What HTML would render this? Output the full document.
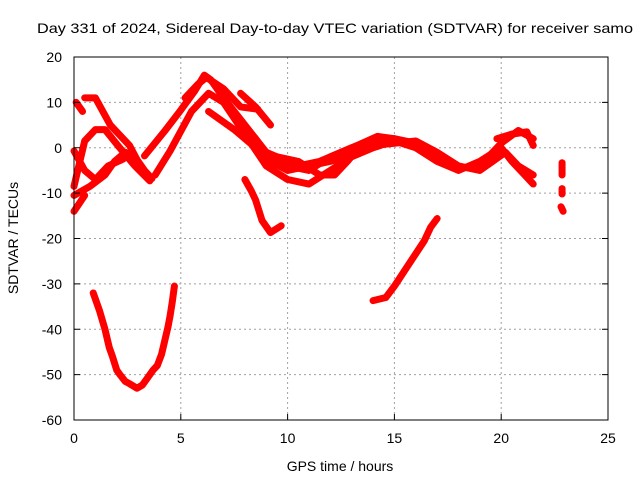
<!DOCTYPE html>
<html><head><meta charset="utf-8"><style>
body{margin:0;background:#fff}
svg text{font-family:"Liberation Sans",sans-serif;font-size:14px;fill:#000}
</style></head><body>
<svg id="chart" width="640" height="480" xmlns="http://www.w3.org/2000/svg">
<text x="37" y="33" textLength="596" lengthAdjust="spacingAndGlyphs">Day 331 of 2024, Sidereal Day-to-day VTEC variation (SDTVAR) for receiver samo</text>
<text x="340" y="471" text-anchor="middle">GPS time / hours</text>
<text transform="translate(18,238) rotate(-90)" text-anchor="middle">SDTVAR / TECUs</text>
<g id="grid"></g>
<g id="series"></g>
<rect x="74" y="57" width="534" height="363" fill="none" stroke="#000" stroke-width="1"/>
<g id="ticks"></g>
</svg>
<script>
const xTicks=[0,5,10,15,20,25];
const yTicks=[20,10,0,-10,-20,-30,-40,-50,-60];
const seriesDip=[[0.9,-32],[1.2,-36],[1.45,-40],[1.65,-44],[1.8,-46],[2.0,-49],[2.15,-50],[2.4,-51.5],[2.6,-52],[2.95,-53],[3.2,-52.3],[3.4,-51],[3.7,-49],[3.9,-48],[4.1,-45.5],[4.25,-42.5],[4.4,-39.5],[4.5,-37],[4.6,-34],[4.7,-30.5]];
const seriesRise=[[14.0,-33.7],[14.6,-33],[15.0,-30.5],[15.7,-25.5],[16.4,-20.5],[16.7,-17.5],[17.0,-15.6]];
const seriesDrop=[[8.0,-7],[8.3,-9.5],[8.5,-11.5],[8.8,-16],[9.2,-18.7],[9.7,-17.2]];
const seriesP1=[[3.3,-1.8],[4.25,3.7],[4.95,8],[5.65,12.5],[6.1,16],[6.4,15],[7,11],[8,5],[9,-1],[9.5,-3],[10,-4],[11,-5],[12,-2],[13,0],[14,1.5],[15,2],[16,1],[17,-2],[18,-4.5],[19,-4],[20,1],[20.8,3.8],[21.5,2]];
const seriesP2=[[3.8,-6],[4.5,-0.7],[5.5,8],[6.3,12],[7,10],[8,3],[9,-4],[10,-7],[11,-8],[12,-5],[13,-2],[14,0],[15,1.5],[16,0],[17,-3],[18,-5],[19,-3],[20,0],[20.5,-3],[21.5,-8]];
const seriesP3=[[6.3,8],[7.5,4],[8.5,0],[9.6,-2.2],[10.5,-4],[11.5,-3],[12.5,-1],[13.5,1],[14.5,2]];
const seriesP4=[[7.8,12],[8.5,9],[9.2,5]];
const seriesP5=[[5.2,11],[5.8,14],[6.2,15.5],[7,13],[7.8,9],[8.6,8.5]];
const seriesP6=[[9.5,-2],[10.5,-3],[11.5,-6],[12.2,-6],[12.8,-3],[13.5,1],[14.2,2.5],[15,2]];
const seriesP7=[[7.5,7],[8.5,2],[9.2,-3],[10,-5],[11,-4],[12,-3],[13,-1.5],[14,0.5],[15,1],[16,1.5],[17,-1],[18,-4],[19,-5],[19.6,-3],[20.2,-1],[20.8,-4],[21.5,-6]];
const seriesP8=[[19.8,2],[20.5,3],[21.2,3.5],[21.5,0.5]];
const seriesL1=[[0.1,10],[0.4,8]];
const seriesL2=[[0.5,11],[1,11],[1.7,5],[2.6,0.5],[3.1,-4],[3.5,-6.8]];
const seriesL3=[[0,-8.5],[0.5,1.5],[1,4],[1.45,4],[2.05,0.5],[2.85,-4],[3.55,-7.3]];
const seriesL4=[[0,-10.5],[0.75,-8.5],[1.45,-6],[1.9,-3],[2.4,-1],[2.85,-2],[3.3,-5],[3.65,-6.8]];
const seriesL5=[[0,-0.7],[0.5,-5],[1,-7],[1.6,-4],[2.3,-2.5]];
const seriesL6=[[0,-14],[0.5,-10.5]];
const seriesEnd1=[[22.85,-3.3],[22.85,-6]];
const seriesEnd2=[[22.85,-9],[22.85,-10.2]];
const seriesEnd3=[[22.8,-13],[22.9,-14]];
const allSeries=[seriesDip,seriesRise,seriesDrop,seriesP1,seriesP2,seriesP3,seriesP4,seriesP5,seriesP6,seriesP7,seriesP8,seriesL1,seriesL2,seriesL3,seriesL4,seriesL5,seriesL6,seriesEnd1,seriesEnd2,seriesEnd3];
const X0=74,X1=608,Y0=420,Y1=57;
const sx=v=>X0+(v-0)/25*(X1-X0);
const sy=v=>Y0-(v+60)/80*(Y0-Y1);
const NS="http://www.w3.org/2000/svg";
const grid=document.getElementById('grid'),ticks=document.getElementById('ticks'),ser=document.getElementById('series');
function mk(tag,at,parent){const e=document.createElementNS(NS,tag);for(const k in at)e.setAttribute(k,at[k]);parent.appendChild(e);return e;}
xTicks.forEach(t=>{const x=sx(t);
 if(t>0&&t<25){const g=mk('line',{x1:x,x2:x,y1:Y1,y2:Y0,stroke:'#a0a0a0','stroke-dasharray':'2,3'},grid);
 
 }
 const tk=mk('line',{x1:x,x2:x,y1:Y0,y2:Y0-6,stroke:'#000'},ticks);
 
 
 const l=mk('text',{x:x,y:Y0+23,'text-anchor':'middle'},ticks);l.textContent=t;
 
 
});
yTicks.forEach(t=>{const y=sy(t);
 if(t>-60&&t<20){const g=mk('line',{x1:X0,x2:X1,y1:y,y2:y,stroke:'#a0a0a0','stroke-dasharray':'2,3'},grid);
 
 }
 const tk=mk('line',{x1:X0,x2:X0+6,y1:y,y2:y,stroke:'#000'},ticks);
 
 
 const tk2=mk('line',{x1:X1,x2:X1-6,y1:y,y2:y,stroke:'#000'},ticks);
 
 
 const l=mk('text',{x:X0-12,y:y+5,'text-anchor':'end'},ticks);l.textContent=t;
 
 
});
allSeries.forEach(s=>{
 const p=mk('polyline',{points:s.map(d=>sx(d[0])+','+sy(d[1])).join(' '),fill:'none',stroke:'#ff0000','stroke-width':7,'stroke-linejoin':'round','stroke-linecap':'round'},ser);
 
 
});
</script>
</body></html>
